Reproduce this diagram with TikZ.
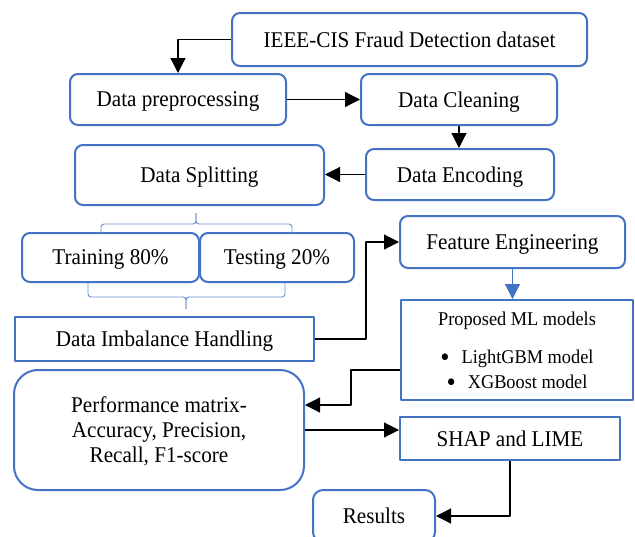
\documentclass[tikz,border=0pt]{standalone}
\usepackage{fontspec}
\setmainfont{Liberation Serif}[FakeStretch=0.94]
\usetikzlibrary{arrows.meta}
\definecolor{boxblue}{HTML}{4472C4}
\newcommand{\bul}{\raisebox{-3pt}{\fontsize{28}{25}\selectfont\textbullet}\hspace{12pt}}
\begin{document}
\begin{tikzpicture}[x=1pt, y=-1pt, line join=round, >={Triangle[length=15pt,width=15pt]},
	box/.style={draw=boxblue, line width=2pt, rounded corners=8pt, inner sep=0pt, align=center, text depth=0pt, font=\fontsize{22.5}{25}\selectfont},
	sqbox/.style={box, rounded corners=0pt},
	link/.style={->, line width=1.2pt},
	brace/.style={draw=boxblue!80, line width=0.9pt, rounded corners=3pt}]
	\useasboundingbox (0,0) rectangle (635,536);
	%\tikzset{box/.append style={fill=white}}
	\node[box, minimum width=355pt, minimum height=53pt] (ieee) at (409.5,39.5) {IEEE-CIS Fraud Detection dataset};
	\node[box, minimum width=216pt, minimum height=51pt] (prep) at (178,99.5) {Data preprocessing};
	\node[box, minimum width=196pt, minimum height=51pt] (clean) at (459,99.5) {Data Cleaning};
	\node[box, minimum width=188pt, minimum height=51pt] (enc) at (460,174.5) {Data Encoding};
	\node[box, minimum width=249pt, minimum height=60pt] (split) at (199.5,175) {Data Splitting};
	\node[box, minimum width=177pt, minimum height=49pt] (train) at (110.5,257.5) {Training 80\%};
	\node[box, minimum width=154pt, minimum height=49pt] (test) at (277,257.5) {Testing 20\%};
	\node[sqbox, minimum width=299pt, minimum height=44pt] (imb) at (164.5,339) {Data Imbalance Handling};
	\node[box, minimum width=225pt, minimum height=52pt] (feat) at (512.5,242) {Feature Engineering};
	\node[sqbox, minimum width=232pt, minimum height=100pt, font=\fontsize{19.5}{25}\selectfont] (models) at (517,350)
		{Proposed ML models\\[13pt] \bul LightGBM model\\ \bul XGBoost model};
	\node[box, rounded corners=24pt, minimum width=290pt, minimum height=120pt] (perf) at (159,430)
		{Performance matrix-\\Accuracy, Precision,\\Recall, F1-score};
	\node[sqbox, minimum width=220pt, minimum height=43pt] (shap) at (510,438.5) {SHAP and LIME};
	\node[box, rounded corners=10pt, minimum width=122pt, minimum height=52pt] (results) at (374,516) {Results};
	% braces round the split
	\draw[brace] (101,233) |- (196,224) -- (196,213);
	\draw[brace] (196,213) -- (196,224) -| (292,233);
	\draw[brace] (88,283) |- (186,297) -- (186,309);
	\draw[brace] (186,309) -- (186,297) -| (285,283);
	% flow
	\draw[link] (ieee.west) -| (prep.north);
	\draw[link] (prep.east) -- (clean.west);
	\draw[link] (clean.south) -- (clean.south |- enc.north);
	\draw[link] (enc.west) -- (enc.west -| split.east);
	\draw[link] (imb.east) -- ++(51,0) |- (feat.west);
	\draw[link, boxblue] (feat.south) -- (feat.south |- models.north);
	\draw[link] ([yshift=-20pt]models.west) -- ++(-49,0) |- ([yshift=25pt]perf.east);
	\draw[link] (perf.east) -- (perf.east -| shap.west);
	\draw[link] (shap.south) |- (results.east);
\end{tikzpicture}
\end{document}
